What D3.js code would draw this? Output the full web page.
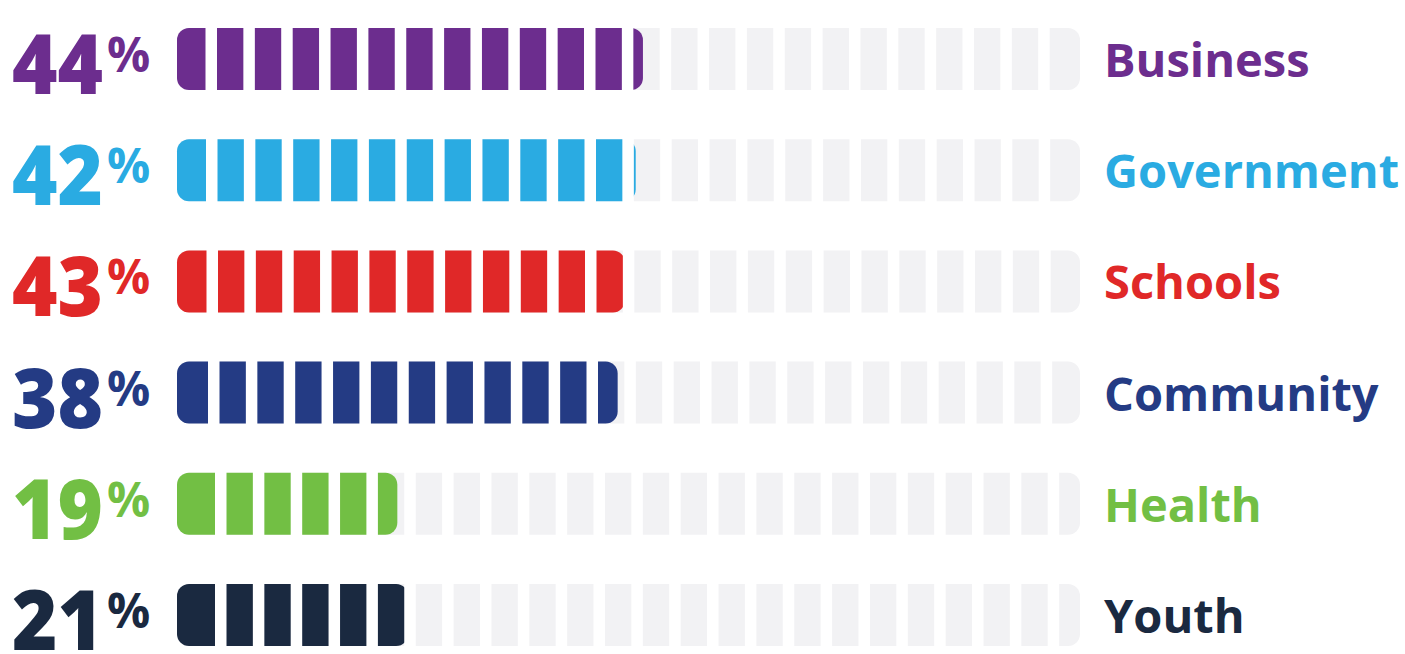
<!DOCTYPE html>
<html>
<head>
<meta charset="utf-8">
<script src="https://cdn.jsdelivr.net/npm/d3@7"></script>
<style>
  body { margin: 0; background: #fff; }
  text { font-family: "Open Sans", sans-serif; }
</style>
</head>
<body>
<svg width="1405" height="654"></svg>
<script>
let categories = ["Business", "Government", "Schools", "Community", "Health", "Youth"];
let percents = [44, 42, 43, 38, 19, 21];
// how far each coloured bar runs along its track (% of the track), as drawn
let barFill = [51.6, 50.8, 49.6, 48.8, 24.4, 25.6];
let colours = ["#6c2d8e", "#2aabe2", "#e02828", "#243b84", "#72bf44", "#1a2940"];

let canvasWidth = 1405;
let canvasHeight = 654;

let trackLeft = 177;
let trackRight = 1080;
let barHeight = 62;
let gapCount = 23;
let gapPitch = 37.85;
let gapWidth = 11.5;
// the white cuts sit a little further right on some rows
let gapShift = [0, 0.5, 1, 2.5, 9.5, 9.5];

let svg = d3.select("svg");

let xScale = d3.scaleLinear()
  .domain([0, 100])
  .range([trackLeft, trackRight]);

let yScale = d3.scalePoint()
  .domain(categories)
  .range([59, 615]);

let rows = svg.selectAll(".row")
  .data(categories)
  .enter()
  .append("g")
  .attr("class", "row")
  .attr("transform", d => "translate(0," + yScale(d) + ")");

// grey track
rows.append("rect")
  .attr("x", xScale(0))
  .attr("y", -barHeight / 2)
  .attr("width", xScale(100) - xScale(0))
  .attr("height", barHeight)
  .attr("rx", 12)
  .attr("ry", 12)
  .style("fill", "#f2f2f4");

// coloured fill
rows.append("rect")
  .attr("x", xScale(0))
  .attr("y", -barHeight / 2)
  .attr("width", (d, i) => xScale(barFill[i]) - xScale(0))
  .attr("height", barHeight)
  .attr("rx", 12)
  .attr("ry", 12)
  .style("fill", (d, i) => colours[i]);

// white cuts that split the bar into segments
rows.each(function(d, i) {
  d3.select(this).selectAll(".gap")
    .data(d3.range(gapCount))
    .enter()
    .append("rect")
    .attr("class", "gap")
    .attr("x", k => 205.5 + gapShift[i] + k * gapPitch)
    .attr("y", -barHeight / 2 - 1)
    .attr("width", gapWidth)
    .attr("height", barHeight + 2)
    .style("fill", "#fff");
});

// big percentage figure
rows.append("text")
  .attr("x", 12)
  .attr("y", 35)
  .attr("textLength", 91)
  .attr("lengthAdjust", "spacingAndGlyphs")
  .style("font-size", "83px")
  .style("font-weight", 800)
  .style("fill", (d, i) => colours[i])
  .text((d, i) => percents[i]);

rows.append("text")
  .attr("x", 107)
  .attr("y", 13)
  .style("font-size", "48px")
  .style("font-weight", 700)
  .style("fill", (d, i) => colours[i])
  .text("%");

// category name
rows.append("text")
  .attr("x", 1104)
  .attr("y", 18)
  .style("font-size", "47px")
  .style("font-weight", 700)
  .style("fill", (d, i) => colours[i])
  .text(d => d);
</script>
</body>
</html>
